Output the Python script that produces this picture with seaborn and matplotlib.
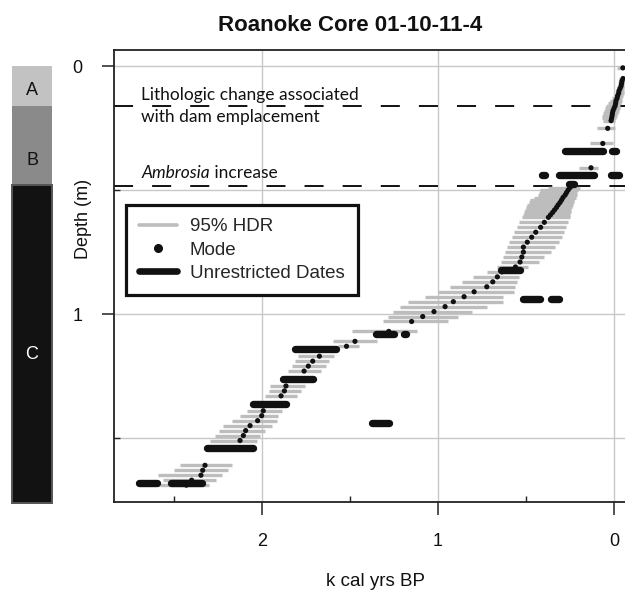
import numpy as np
import pandas as pd
import matplotlib
matplotlib.use("Agg")
import matplotlib.pyplot as plt
import seaborn as sns
from matplotlib.lines import Line2D

sns.set_theme(style="white")
plt.rcParams['font.family'] = ['Liberation Sans', 'DejaVu Sans']

# ---------------- data ----------------
title = "Roanoke Core 01-10-11-4"
x_label = "k cal yrs BP"
y_label = "Depth (m)"
x_ticks = [0, 1, 2]
x_tick_labels = ["0", "1", "2"]
y_ticks = [0, 1]
y_tick_labels = ["0", "1"]

# 95% HDR rows (depth m, younger / older bound k cal yr BP) and mode
hdr_depth = [0.007,
             0.05, 0.06, 0.07, 0.08, 0.09, 0.10, 0.11, 0.12, 0.13, 0.14, 0.15,
             0.16, 0.17, 0.18, 0.19, 0.20, 0.21, 0.22,
             0.251, 0.312, 0.41,
             0.49, 0.50, 0.51, 0.52, 0.53, 0.54, 0.55, 0.56, 0.57, 0.58, 0.59, 0.60,
             0.61, 0.63, 0.65, 0.67, 0.69, 0.71, 0.73, 0.75, 0.77, 0.79, 0.81,
             0.83, 0.85, 0.87, 0.89, 0.91, 0.93, 0.95, 0.97, 0.99, 1.01, 1.03,
             1.07, 1.11, 1.13,
             1.17, 1.19, 1.21, 1.23,
             1.29, 1.31, 1.33,
             1.39, 1.41, 1.43, 1.45, 1.47, 1.49, 1.51,
             1.61, 1.63, 1.65, 1.67, 1.69]
hdr_lo = [-0.053,
          -0.057, -0.057, -0.057, -0.057, -0.057, -0.054, -0.054, -0.051, -0.045, -0.045, -0.040,
          -0.034, -0.034, -0.028, -0.023, -0.017, -0.011, -0.006,
          -0.006, 0.004, 0.091,
          0.193, 0.205, 0.210, 0.210, 0.216, 0.227, 0.227, 0.233, 0.239, 0.244, 0.244, 0.250,
          0.250, 0.260, 0.273, 0.284, 0.297, 0.311, 0.335, 0.360, 0.398, 0.424, 0.487,
          0.534, 0.538, 0.549, 0.562, 0.568, 0.629, 0.632, 0.723, 0.809, 0.885, 0.942,
          1.121, 1.348, 1.447,
          1.591, 1.618, 1.636, 1.665,
          1.756, 1.780, 1.803,
          1.888, 1.907, 1.917, 1.945, 1.983, 2.011, 2.030,
          2.172, 2.191, 2.229, 2.260, 2.300]
hdr_hi = [-0.017,
          -0.028, -0.026, -0.023, -0.020, -0.017, -0.011, -0.006, 0.000, 0.011, 0.023, 0.034,
          0.045, 0.051, 0.057, 0.063, 0.068, 0.068, 0.063,
          0.098, 0.136, 0.199,
          0.375, 0.420, 0.426, 0.432, 0.455, 0.477, 0.483, 0.494, 0.500, 0.506, 0.511, 0.517,
          0.524, 0.538, 0.553, 0.568, 0.581, 0.595, 0.610, 0.619, 0.629, 0.644, 0.666,
          0.723, 0.799, 0.865, 0.932, 0.998, 1.074, 1.169, 1.216, 1.254, 1.282, 1.311,
          1.490, 1.595, 1.566,
          1.794, 1.813, 1.831, 1.851,
          1.955, 1.958, 1.983,
          2.087, 2.125, 2.172, 2.220, 2.243, 2.267, 2.295,
          2.466, 2.500, 2.589, 2.560, 2.580]
mode_age = [-0.050,
            -0.051, -0.045, -0.043, -0.040, -0.034, -0.028, -0.026, -0.020, -0.017, -0.011, -0.009,
            -0.006, 0.000, 0.006, 0.009, 0.011, 0.014, 0.017,
            0.036, 0.064, 0.131,
            0.250, 0.261, 0.270, 0.278, 0.290, 0.298, 0.307, 0.318, 0.327, 0.338, 0.349, 0.361,
            0.373, 0.396, 0.417, 0.445, 0.468, 0.493, 0.515, 0.515, 0.524, 0.534, 0.560,
            0.638, 0.663, 0.689, 0.723, 0.795, 0.852, 0.913, 0.960, 1.023, 1.087, 1.150,
            1.280, 1.472, 1.520,
            1.674, 1.712, 1.737, 1.761,
            1.864, 1.873, 1.892,
            1.993, 2.002, 2.025, 2.068, 2.093, 2.106, 2.125,
            2.324, 2.337, 2.347, 2.400, 2.430]

# unrestricted (calibrated) date ranges
ur_depth = [0.155, 0.343, 0.343, 0.44, 0.44, 0.44, 0.476, 0.823, 0.941, 0.941,
            1.082, 1.082, 1.142, 1.262, 1.363, 1.441, 1.542, 1.683, 1.683]
ur_lo = [-0.005, 0.041, -0.034, 0.369, 0.091, -0.051, 0.205, 0.515, 0.291, 0.398,
         1.159, 1.231, 1.557, 1.689, 1.845, 1.257, 2.030, 2.318, 2.574]
ur_hi = [0.005, 0.297, 0.032, 0.432, 0.335, 0.040, 0.278, 0.666, 0.382, 0.538,
         1.216, 1.371, 1.831, 1.902, 2.072, 1.396, 2.334, 2.536, 2.722]

# event lines
event_depths = [0.16, 0.483]

# lithologic units
units = ["A", "B", "C"]
unit_top = [0.0, 0.161, 0.48]
unit_bottom = [0.161, 0.48, 1.762]
unit_colors = ["#c2c2c2", "#8a8a8a", "#121212"]

legend_labels = ["95% HDR", "Mode", "Unrestricted Dates"]

# ---------------- figure ----------------
W, H = 625, 591
fig = plt.figure(figsize=(W / 100, H / 100), dpi=100)
fig.patch.set_facecolor("white")


def box(x0, y0, x1, y1):
    return [x0 / W, 1 - y1 / H, (x1 - x0) / W, (y1 - y0) / H]


ax = fig.add_axes(box(114, 50, 632, 502))
ax.set_facecolor("white")
ax.set_xlim(2.841, -0.102)
ax.set_ylim(1.758, -0.065)

grid_c = "#c8c8c8"
for yv in [0, 0.5, 1, 1.5]:
    ax.axhline(yv, color=grid_c, lw=1.0, zorder=0)
for xv in x_ticks:
    ax.axvline(xv, color=grid_c, lw=1.0, zorder=0)

for d in event_depths:
    ax.axhline(d, color="#111111", lw=1.4, ls=(0, (9.8, 9.8)), zorder=1.5)

ax.hlines(hdr_depth, hdr_lo, hdr_hi, color="#bdbdbd", lw=2.4, zorder=2)

# shrink unrestricted segments by the round-cap radius
r = (3.7 / 176.0)
lo = np.array(ur_lo) + r
hi = np.array(ur_hi) - r
mid = (np.array(ur_lo) + np.array(ur_hi)) / 2
lo2 = np.where(lo > hi, mid, lo)
hi2 = np.where(lo > hi, mid, hi)
ax.hlines(ur_depth, lo2, hi2, color="#111111", lw=5.3, capstyle="round", zorder=3)

df_mode = pd.DataFrame({"age": mode_age, "depth": hdr_depth})
sns.scatterplot(data=df_mode, x="age", y="depth", ax=ax, color="#111111", s=14,
                edgecolor="none", linewidth=0, zorder=4, legend=False)

ax.set_xlabel("")
ax.set_ylabel("")
for s in ["left", "top", "bottom"]:
    ax.spines[s].set_visible(True)
    ax.spines[s].set_color("#222222")
    ax.spines[s].set_linewidth(1.3)
ax.spines["right"].set_visible(False)

ax.set_xticks(x_ticks)
ax.set_xticklabels(x_tick_labels)
ax.set_yticks(y_ticks)
ax.set_yticklabels(y_tick_labels)
ax.set_xticks([0.5, 1.5, 2.5], minor=True)
ax.set_yticks([0.5, 1.5], minor=True)
ax.tick_params(which="major", direction="out", length=9, width=1.1, color="#222222",
               pad=13.5, labelsize=13, labelcolor="#111111",
               bottom=True, left=True, top=False, right=False)
ax.tick_params(which="minor", direction="in", length=4, width=1.0, color="#222222",
               bottom=True, left=True, top=False, right=False)

# annotations
ann_font = ["Lato", "DejaVu Sans"]
ax.text(2.689, (100 - 66) / 248, "Lithologic change associated", fontsize=12.5,
        family=ann_font, va="baseline", ha="left", color="#111111", zorder=6)
ax.text(2.689, (121.7 - 66) / 248, "with dam emplacement", fontsize=12.5,
        family=ann_font, va="baseline", ha="left", color="#111111", zorder=6)
t1 = ax.text(2.683, (178.3 - 66) / 248, "Ambrosia", fontsize=12.5, family=ann_font,
             style="italic", va="baseline", ha="left", color="#111111", zorder=6)
ax.annotate(" increase", xy=(1, 0), xycoords=t1, fontsize=12.5, family=ann_font,
            va="bottom", ha="left", color="#111111", zorder=6)

# legend
handles = [Line2D([], [], color="#bdbdbd", lw=2.6),
           Line2D([], [], color="#111111", lw=0, marker="o", ms=5.5),
           Line2D([], [], color="#111111", lw=4.8, solid_capstyle="round")]
leg = fig.legend(handles, legend_labels, loc="upper left",
                 bbox_to_anchor=(126 / W, 1 - 205 / H), bbox_transform=fig.transFigure,
                 frameon=True, fancybox=False, edgecolor="#111111", framealpha=1,
                 borderpad=0.7, handlelength=2.0, handletextpad=0.7, labelspacing=0.33,
                 borderaxespad=0, prop=dict(family="Liberation Sans", size=13.5))
leg.get_frame().set_linewidth(2.3)

# lithology strip
ax2 = fig.add_axes(box(12, 50, 52, 502))
ax2.set_xlim(0, 1)
ax2.set_ylim(1.758, -0.065)
for i, u in enumerate(units):
    ec = "#555555" if i == 2 else unit_colors[i]
    ax2.bar(0.5, unit_bottom[i] - unit_top[i], bottom=unit_top[i], width=1.0,
            color=unit_colors[i], edgecolor=ec, linewidth=1.4 if i == 2 else 0, clip_on=False)
label_depths = [0.10, 0.38, 1.165]
for i, u in enumerate(units):
    ax2.text(0.5, label_depths[i], u, ha="center", va="center", fontsize=13,
             color="white" if i == 2 else "#111111")
ax2.axis("off")

# titles
fig.text(350 / W, 1 - 31 / H, title, ha="center", va="baseline", fontsize=16,
         fontweight="bold", color="#111111")
fig.text(375 / W, 1 - 586 / H, x_label, ha="center", va="baseline", fontsize=13.5,
         color="#111111")
fig.text(83 / W, 1 - 218.5 / H, y_label, ha="center", va="center", rotation=90,
         fontsize=13, color="#111111")

fig.savefig("out.png", dpi=100, facecolor="white")
